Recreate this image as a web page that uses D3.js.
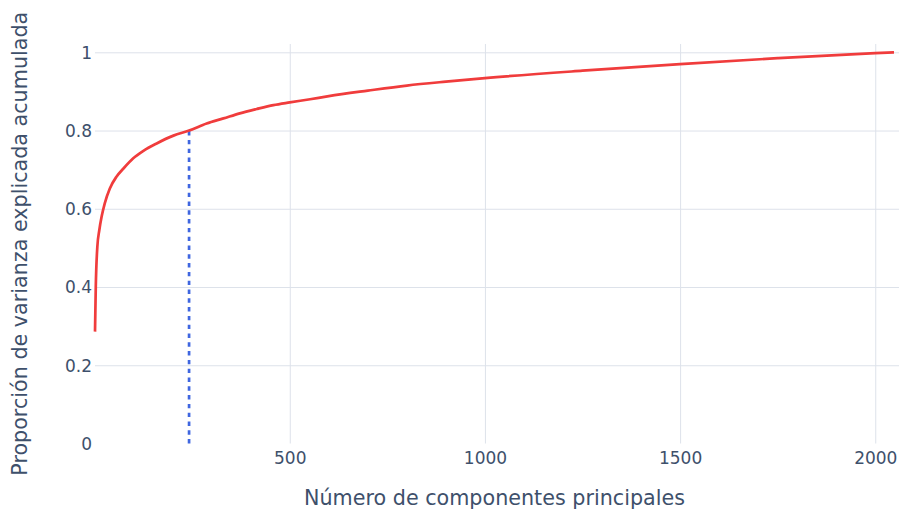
<!DOCTYPE html>
<html>
<head>
<meta charset="utf-8">
<script src="https://cdn.jsdelivr.net/npm/d3@7"></script>
<style>
  html, body { margin: 0; padding: 0; background: #fff; }
  svg { display: block; }
  text { font-family: "DejaVu Sans", Verdana, sans-serif; fill: #3e506b; }
</style>
</head>
<body>
<svg id="chart" width="899" height="512"></svg>
<script>
// Data
const components = [1, 3, 7, 12, 18, 26, 39, 56, 74, 99, 125, 159, 202, 242, 287, 330, 372, 415, 458, 500, 552, 600, 700, 800, 900, 1000, 1250, 1500, 1750, 2000, 2048];
const cumVariance = [0.286, 0.401, 0.503, 0.545, 0.580, 0.614, 0.652, 0.682, 0.703, 0.729, 0.748, 0.767, 0.787, 0.800, 0.818, 0.831, 0.844, 0.855, 0.865, 0.872, 0.880, 0.888, 0.902, 0.915, 0.925, 0.934, 0.953, 0.970, 0.985, 0.998, 1.0];
const thresholdComponents = 242;
const thresholdValue = 0.8;
const xTicks = [500, 1000, 1500, 2000];
const yTicks = [0, 0.2, 0.4, 0.6, 0.8, 1];
const xTitle = "Número de componentes principales";
const yTitle = "Proporción de varianza explicada acumulada";

const svg = d3.select("#chart");
const plot = { left: 95, right: 894, top: 44, bottom: 443.5 };

const x = d3.scaleLinear().domain([1, 2048]).range([plot.left, plot.right]);
const y = d3.scaleLinear().domain([0, 1]).range([plot.bottom, 52.3]);

const grid = "#dde2ea";
const textColor = "#3e506b";

// Vertical grid lines
const xAxis = d3.axisBottom(x).tickValues(xTicks).tickFormat(d3.format("d"))
  .tickSize(-(plot.bottom - plot.top)).tickPadding(8);
const gx = svg.append("g").attr("transform", `translate(0,${plot.bottom})`).call(xAxis);
gx.select(".domain").remove();
gx.selectAll(".tick line").attr("stroke", grid).attr("stroke-width", 1);
gx.selectAll(".tick text").attr("font-size", 17).attr("fill", textColor)
  .attr("font-family", "DejaVu Sans").attr("dy", null).attr("y", 20.5)
  .attr("dominant-baseline", "auto");

// Horizontal grid lines
const yAxis = d3.axisLeft(y).tickValues(yTicks).tickFormat(d => d3.format("")(d))
  .tickSize(-(899 - plot.left)).tickPadding(4);
const gy = svg.append("g").attr("transform", `translate(${plot.left},0)`).call(yAxis);
gy.select(".domain").remove();
gy.selectAll(".tick line").attr("stroke", (d) => d === 0 ? "none" : grid).attr("stroke-width", 1);
gy.selectAll(".tick text").attr("font-size", 17).attr("fill", textColor)
  .attr("font-family", "DejaVu Sans").attr("x", -3).attr("dy", "0.35em");

// Threshold dotted line
svg.append("line")
  .attr("x1", x(thresholdComponents)).attr("x2", x(thresholdComponents))
  .attr("y1", y(0)).attr("y2", y(thresholdValue))
  .attr("stroke", "#3f66e0").attr("stroke-width", 2.7)
  .attr("stroke-dasharray", "4.4,4.4");

// Cumulative variance curve
const pts = components.map((c, i) => [c, cumVariance[i]]);
const line = d3.line().x(d => x(d[0])).y(d => y(d[1])).curve(d3.curveMonotoneX);
svg.append("path").datum(pts).attr("d", line)
  .attr("fill", "none").attr("stroke", "#f03c3c").attr("stroke-width", 2.7)
  .attr("stroke-linejoin", "round");

// Axis titles
svg.append("text").attr("x", (plot.left + plot.right) / 2).attr("y", 504.5)
  .attr("text-anchor", "middle").attr("font-size", 20.7).attr("fill", textColor).text(xTitle);
svg.append("text").attr("transform", `translate(27,${(plot.top + plot.bottom) / 2}) rotate(-90)`)
  .attr("text-anchor", "middle").attr("font-size", 20.7).attr("fill", textColor).text(yTitle);
</script>
</body>
</html>
